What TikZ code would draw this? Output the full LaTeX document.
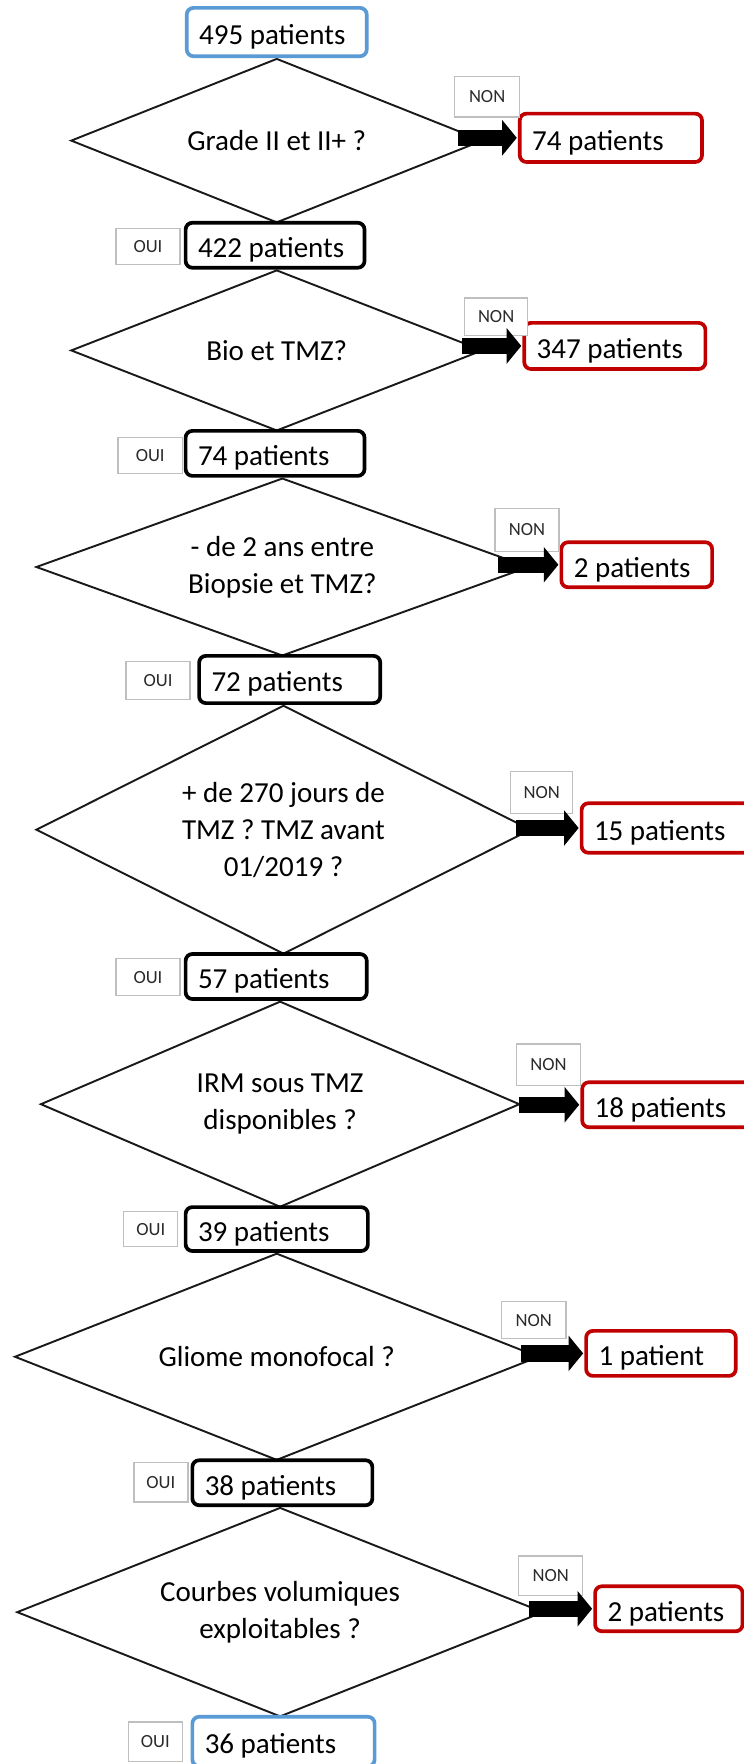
\documentclass[tikz,border=0pt]{standalone}
\usepackage{fontspec}
\setmainfont{Carlito}
\usetikzlibrary{shapes.geometric,arrows.meta}
\newcommand\mainsz{\fontsize{25.8pt}{33pt}\selectfont}
\newcommand\labsz{\fontsize{16.5pt}{20pt}\selectfont}
\definecolor{boxblue}{HTML}{5B9BD5}
\definecolor{boxred}{HTML}{C00000}
\definecolor{labgray}{HTML}{BFBFBF}
\definecolor{labtext}{HTML}{2A2A2A}
\tikzset{
  box/.style={draw, line width=3.3pt, rounded corners=6pt, fill=white,
    inner xsep=11pt, inner ysep=0pt, align=flush left, text height=22pt, text depth=0pt,
    font=\mainsz},
  bluebox/.style={box, draw=boxblue},
  blackbox/.style={box, draw=black},
  redbox/.style={box, draw=boxred},
  decision/.style={diamond, draw=black!90, line width=1.7pt, inner sep=0pt,
    shape aspect=2.5, align=center, font=\mainsz},
  lab/.style={draw=labgray, line width=1.2pt, fill=white, inner sep=0pt,
    font=\labsz, text=labtext},
  blockarrow/.style={line width=14.5pt, black, -{Triangle[length=13pt,width=31pt]}},
}
\begin{document}
\begin{tikzpicture}[x=1pt,y=-1pt]
\useasboundingbox (0,0) rectangle (661,1568);
\fill[white] (0,0) rectangle (661,1568);

% decisions
\node[decision, minimum width=366pt, minimum height=146pt] (d1) at (246,125) {Grade II et II+ ?};
\node[decision, minimum width=366pt, minimum height=143pt] (d2) at (246,311.5) {Bio et TMZ?};
\node[decision, minimum width=438pt, minimum height=158pt] (d3) at (251,504) {- de 2 ans entre\\Biopsie et TMZ?};
\node[decision, minimum width=440pt, minimum height=221pt] (d4) at (252,737.5) {+ de 270 jours de\\TMZ ? TMZ avant\\01/2019 ?};
\node[decision, minimum width=426pt, minimum height=183pt] (d5) at (249,981.5) {IRM sous TMZ\\disponibles ?};
\node[decision, minimum width=466pt, minimum height=184pt] (d6) at (246,1206) {Gliome monofocal ?};
\node[decision, minimum width=468pt, minimum height=186pt] (d7) at (249,1433) {Courbes volumiques\\exploitables ?};

% main column boxes
\node[bluebox, text width=138pt, minimum height=43pt] (b0) at (246,28.5) {495 patients};
\node[blackbox, text width=137pt, minimum height=40pt] (b1) at (244.5,218) {422 patients};
\node[blackbox, text width=137pt, minimum height=40pt] (b2) at (244.5,403) {74 patients};
\node[blackbox, text width=139pt, minimum height=42pt] (b3) at (257.5,604) {72 patients};
\node[blackbox, text width=139pt, minimum height=40pt] (b4) at (245.5,868) {57 patients};
\node[blackbox, text width=140pt, minimum height=39pt] (b5) at (246,1092.5) {39 patients};
\node[blackbox, text width=138pt, minimum height=40pt] (b6) at (251,1318) {38 patients};
\node[bluebox, text width=140pt, minimum height=44pt] (b7) at (252,1548) {36 patients};

% excluded boxes
\node[redbox, text width=140pt, minimum height=43pt] (r1) at (543,122.5) {74 patients};
\node[redbox, text width=139pt, minimum height=41pt] (r2) at (546.5,307.5) {347 patients};
\node[redbox, text width=112pt, minimum height=40pt] (r3) at (566,502) {2 patients};
\node[redbox, text width=133pt, minimum height=44pt] (r4) at (594.5,736) {15 patients};
\node[redbox, text width=133pt, minimum height=40pt] (r5) at (595,982) {18 patients};
\node[redbox, text width=111pt, minimum height=40pt] (r6) at (587.5,1203) {1 patient};
\node[redbox, text width=109pt, minimum height=40pt] (r7) at (594.5,1430) {2 patients};

% NON labels
\node[lab, minimum width=58pt, minimum height=36pt] (n1) at (433,86) {NON};
\node[lab, minimum width=56pt, minimum height=33pt] (n2) at (441,281.5) {NON};
\node[lab, minimum width=57pt, minimum height=38pt] (n3) at (468.5,471) {NON};
\node[lab, minimum width=55pt, minimum height=37pt] (n4) at (481.5,704.5) {NON};
\node[lab, minimum width=57pt, minimum height=37pt] (n5) at (487.5,946.5) {NON};
\node[lab, minimum width=57pt, minimum height=33pt] (n6) at (474.5,1173.5) {NON};
\node[lab, minimum width=57pt, minimum height=35pt] (n7) at (489.5,1400.5) {NON};

% OUI labels
\node[lab, minimum width=57pt, minimum height=32pt] (o1) at (131.5,219) {OUI};
\node[lab, minimum width=57pt, minimum height=32pt] (o2) at (133.5,405) {OUI};
\node[lab, minimum width=57pt, minimum height=34pt] (o3) at (140.5,605) {OUI};
\node[lab, minimum width=57pt, minimum height=33pt] (o4) at (131.5,868.5) {OUI};
\node[lab, minimum width=48pt, minimum height=31pt] (o5) at (134,1092.5) {OUI};
\node[lab, minimum width=48pt, minimum height=35pt] (o6) at (143,1317.5) {OUI};
\node[lab, minimum width=48pt, minimum height=35pt] (o7) at (138,1548) {OUI};

% arrow starts
\coordinate (s1) at (407,122.5);
\coordinate (s2) at (411,307.5);
\coordinate (s3) at (443,502);
\coordinate (s4) at (459,736);
\coordinate (s5) at (461,982);
\coordinate (s6) at (463,1203);
\coordinate (s7) at (470,1430);

\draw[blockarrow] (s1) -- ([xshift=-1pt]r1.west);
\draw[blockarrow] (s2) -- ([xshift=-1pt]r2.west);
\draw[blockarrow] (s3) -- ([xshift=-1pt]r3.west);
\draw[blockarrow] (s4) -- ([xshift=-1pt]r4.west);
\draw[blockarrow] (s5) -- ([xshift=-1pt]r5.west);
\draw[blockarrow] (s6) -- ([xshift=-1pt]r6.west);
\draw[blockarrow] (s7) -- ([xshift=-1pt]r7.west);
\end{tikzpicture}
\end{document}
